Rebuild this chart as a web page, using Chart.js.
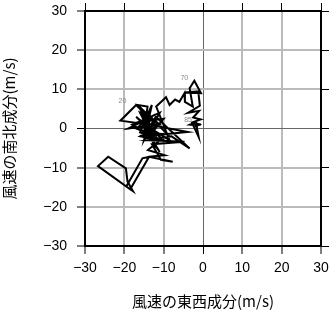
<!DOCTYPE html>
<html>
<head>
<meta charset="utf-8">
<script src="https://cdn.jsdelivr.net/npm/chart.js@4/dist/chart.umd.min.js"></script>
<style>
  html, body { margin: 0; padding: 0; background: #fff; }
  #wrap { width: 331px; height: 318px; }
</style>
</head>
<body>
<div id="wrap"><canvas id="hodo" width="331" height="318"></canvas></div>
<script>
// wind components (m/s), one entry per observation
const uWind = [-14, -12, -16, -13, -18, -11, -15, -13, -16, -10,
  -17, -14, -12, -15, -19, -11, -16, -13, -15, -17,
  -21, -14, -3.9, -15, -12, -3.4, -8, -14, -4.7, -13,
  -10.7, -7.7, -13.7, -15.4, -19.5, -17.8, -19.2, -19.6, -24.1, -26.7,
  -18.5, -13.7, -9.8, -14, -11, -16, -12, -15.5, -11, -14.5,
  -9, -16.6, -14.1, -15, -13, -17, -12, -14, -10, -12.5,
  -8.5, -11.9, -9.4, -8.5, -7.1, -6, -4.7, -4.6, -2.6, -3.4,
  -2.2, -0.5, -4.7, -1.2, -0.8, -3.8, -1.0, -2.5, -0.6, -2.8,
  -1.1, -1.8, -3.3, -2.4, -2.5, -0.5];
const vWind = [-1, 2, 4, -2, 1, 4, -3, 6, -1, -3,
  3, 0, -5, 2, 0, 1, 5, -1, 4, 6,
  2, 1, -0.9, -2, 3, -5.1, -2, -3, -3.4, -4,
  -8, -8.5, -7.2, -7.6, -14.8, -16, -13.5, -10.2, -7.2, -9.6,
  -15.5, -7.2, -6.8, -5.5, -3, -2, 0.5, 1.5, -6, -1,
  -1.5, 6, 5.6, -1, 3, 0, -2, 2, 2.5, -0.5,
  -3, 5.6, 8, 6, 7.4, 6.8, 9, 6.8, 5.6, 10.3,
  12.2, 9, 9.2, 9.5, 5.8, 4.0, 4.5, 2.8, 2.3, 1.5,
  -2.2, 1.6, 1.0, 0.9, 1.0, 1.0];
// observation numbers written beside the trace
const markIndex = [20, 70, 85];
const markText = ['20', '70', '85'];
const axisTicks = [-30, -20, -10, 0, 10, 20, 30];

const points = uWind.map((u, i) => ({ x: u, y: vWind[i] }));
const tickFont = { family: 'Liberation Sans, Arial, sans-serif', size: 14 };
const titleFont = { family: '"Noto Sans CJK JP", sans-serif', size: 15 };
const minus = v => String(v).replace('-', '\u2212');

const gridColor = ctx => (ctx.tick && ctx.tick.value === 0) ? '#666' : '#bbb';
const gridWidth = ctx => (ctx.tick && ctx.tick.value === 0) ? 1 : 2;
const fixedTicks = s => { s.ticks = axisTicks.map(v => ({ value: v })); };

const arrowAndMarks = {
  id: 'arrowAndMarks',
  afterDatasetsDraw(chart) {
    const pts = chart.getDatasetMeta(0).data;
    const ctx = chart.ctx;
    ctx.save();
    // arrowhead at the last point
    const a = pts[pts.length - 2], b = pts[pts.length - 1];
    const ang = Math.atan2(b.y - a.y, b.x - a.x);
    const len = 7, half = 0.45;
    ctx.fillStyle = '#000';
    ctx.beginPath();
    ctx.moveTo(b.x + 1, b.y);
    ctx.lineTo(b.x - len * Math.cos(ang - half), b.y - len * Math.sin(ang - half));
    ctx.lineTo(b.x - len * Math.cos(ang + half), b.y - len * Math.sin(ang + half));
    ctx.closePath();
    ctx.fill();
    // small grey observation numbers
    const offs = [[2, -20], [-10, -3], [-13, -5]];
    ctx.fillStyle = '#888';
    ctx.font = '7px "Liberation Sans", Arial, sans-serif';
    ctx.textAlign = 'center';
    ctx.textBaseline = 'middle';
    markIndex.forEach((idx, i) => {
      const p = pts[idx];
      ctx.fillText(markText[i], p.x + offs[i][0], p.y + offs[i][1]);
    });
    ctx.restore();
  }
};

new Chart(document.getElementById('hodo').getContext('2d'), {
  type: 'scatter',
  data: {
    datasets: [{
      data: points,
      showLine: true,
      borderColor: '#000',
      borderWidth: 2,
      pointRadius: 0,
      tension: 0,
      xAxisID: 'x',
      yAxisID: 'y'
    }]
  },
  options: {
    responsive: false,
    animation: false,
    events: [],
    layout: { padding: 0 },
    plugins: { legend: { display: false }, tooltip: { enabled: false } },
    scales: {
      x: {
        type: 'linear', position: 'bottom', min: -30, max: 30,
        afterBuildTicks: fixedTicks,
        ticks: { font: tickFont, color: '#000', padding: 6, maxRotation: 0, callback: minus },
        grid: { color: gridColor, lineWidth: gridWidth, tickColor: '#000', tickWidth: 1, tickLength: 8 },
        border: { display: true, color: '#000', width: 2 },
        title: { display: true, text: '風速の東西成分(m/s)', font: titleFont, color: '#000', padding: { top: 0, bottom: 8 } },
        afterFit: s => { s.height = 72; s.paddingLeft = 0; s.paddingRight = 0; }
      },
      x2: {
        type: 'linear', position: 'top', min: -30, max: 30,
        afterBuildTicks: fixedTicks,
        ticks: { display: false },
        grid: { drawOnChartArea: false, tickColor: '#000', tickWidth: 1, tickLength: 8 },
        border: { display: true, color: '#000', width: 2 },
        afterFit: s => { s.height = 11; s.paddingLeft = 0; s.paddingRight = 0; }
      },
      y: {
        type: 'linear', position: 'left', min: -30, max: 30,
        afterBuildTicks: fixedTicks,
        ticks: { font: tickFont, color: '#000', padding: 10, callback: minus },
        grid: { color: gridColor, lineWidth: gridWidth, tickColor: '#000', tickWidth: 1, tickLength: 8 },
        border: { display: true, color: '#000', width: 2 },
        title: { display: true, text: '風速の南北成分(m/s)', font: titleFont, color: '#000', padding: 0 },
        afterFit: s => { s.width = 85; s.paddingTop = 0; s.paddingBottom = 0; }
      },
      y2: {
        type: 'linear', position: 'right', min: -30, max: 30,
        afterBuildTicks: fixedTicks,
        ticks: { display: false },
        grid: { drawOnChartArea: false, tickColor: '#000', tickWidth: 1, tickLength: 8 },
        border: { display: true, color: '#000', width: 2 },
        afterFit: s => { s.width = 10; s.paddingTop = 0; s.paddingBottom = 0; }
      }
    }
  },
  plugins: [arrowAndMarks]
});
</script>
</body>
</html>
